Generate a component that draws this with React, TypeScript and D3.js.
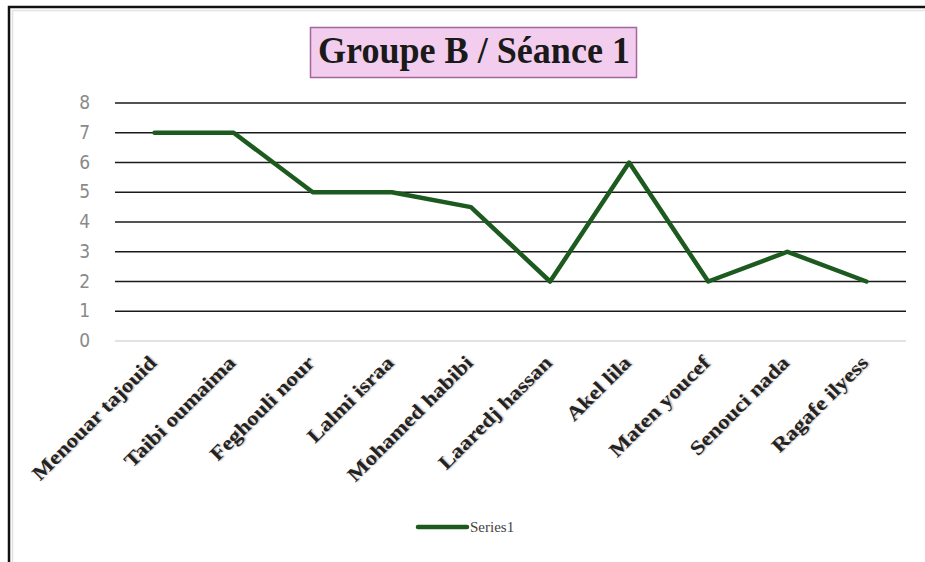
import { useEffect, useRef } from 'react';
import * as d3 from 'd3';

const names = [
  'Menouar tajouid',
  'Taibi oumaima',
  'Feghouli nour',
  'Lalmi israa',
  'Mohamed habibi',
  'Laaredj hassan',
  'Akel lila',
  'Maten youcef',
  'Senouci nada',
  'Ragafe  ilyess',
];
const series1 = [7, 7, 5, 5, 4.5, 2, 6, 2, 3, 2];
const yTicks = [0, 1, 2, 3, 4, 5, 6, 7, 8];
const title = 'Groupe B / Séance 1';
const seriesName = 'Series1';

const W = 925;
const H = 562;
const SERIF = 'Liberation Serif, serif';

export default function App() {
  const svgRef = useRef<SVGSVGElement | null>(null);

  useEffect(() => {
    if (!svgRef.current) return;
    const svg = d3.select(svgRef.current);
    svg.selectAll('*').remove();

    svg.append('rect').attr('width', W).attr('height', H).attr('fill', '#fff');

    // outer frame (black left + top, light inner line)
    svg.append('path')
      .attr('d', `M9,${H} V7 H${W}`)
      .attr('fill', 'none')
      .attr('stroke', '#111')
      .attr('stroke-width', 2.5);
    svg.append('path')
      .attr('d', `M12.5,${H} V10.5 H${W}`)
      .attr('fill', 'none')
      .attr('stroke', '#e2e2e2')
      .attr('stroke-width', 1.5);

    const x = d3.scalePoint<string>()
      .domain(names)
      .range([115, 906])
      .padding(0.5);
    const y = d3.scaleLinear().domain([0, 8]).range([341, 103]);

    // title
    svg.append('rect')
      .attr('x', 310.5).attr('y', 27.5)
      .attr('width', 326).attr('height', 50)
      .attr('fill', '#f2cdee')
      .attr('stroke', '#a566a0')
      .attr('stroke-width', 1.5);
    svg.append('text')
      .attr('x', 318).attr('y', 63)
      .attr('font-family', SERIF)
      .attr('font-weight', 'bold')
      .attr('font-size', 37)
      .attr('textLength', 312)
      .attr('lengthAdjust', 'spacingAndGlyphs')
      .attr('fill', '#1a1a1a')
      .text(title);

    // gridlines
    svg.append('g')
      .selectAll('line')
      .data(yTicks)
      .join('line')
      .attr('x1', 115).attr('x2', 906)
      .attr('y1', d => y(d)).attr('y2', d => y(d))
      .attr('stroke', d => (d === 0 ? '#d9d9d9' : '#1a1a1a'))
      .attr('stroke-width', 1.5);

    // y tick labels
    svg.append('g')
      .selectAll('text')
      .data(yTicks)
      .join('text')
      .attr('x', 90)
      .attr('y', d => y(d) + 6)
      .attr('text-anchor', 'end')
      .attr('font-family', 'Liberation Sans Narrow, DejaVu Sans Condensed, Liberation Sans, sans-serif')
      .attr('font-size', 19)
      .attr('fill', '#8a8a8a')
      .text(d => d);

    // x labels
    svg.append('g')
      .selectAll('text')
      .data(names)
      .join('text')
      .attr('transform', d => `translate(${(x(d) ?? 0) + 3},${364}) rotate(-45) scale(1.15,1)`)
      .attr('text-anchor', 'end')
      .attr('font-family', SERIF)
      .attr('font-weight', 'bold')
      .attr('font-size', 20)
      .attr('fill', '#222')
      .attr('style', 'text-shadow: 1px 1px 1.5px rgba(0,0,0,0.3)')
      .text(d => d);

    // series line
    const line = d3.line<number>()
      .x((_, i) => x(names[i]) ?? 0)
      .y(d => y(d));
    svg.append('path')
      .datum(series1)
      .attr('d', line)
      .attr('fill', 'none')
      .attr('stroke', '#1d5a1f')
      .attr('stroke-width', 4.5)
      .attr('stroke-linejoin', 'round')
      .attr('stroke-linecap', 'round');

    // legend
    svg.append('line')
      .attr('x1', 418).attr('x2', 467)
      .attr('y1', 527).attr('y2', 527)
      .attr('stroke', '#1d5a1f')
      .attr('stroke-width', 4.5)
      .attr('stroke-linecap', 'round');
    svg.append('text')
      .attr('x', 470).attr('y', 532)
      .attr('font-family', SERIF)
      .attr('font-size', 15)
      .attr('fill', '#444')
      .text(seriesName);
  }, []);

  return (
    <svg
      ref={svgRef}
      width={W}
      height={H}
      style={{ position: 'absolute', top: 0, left: 0, display: 'block' }}
    />
  );
}
